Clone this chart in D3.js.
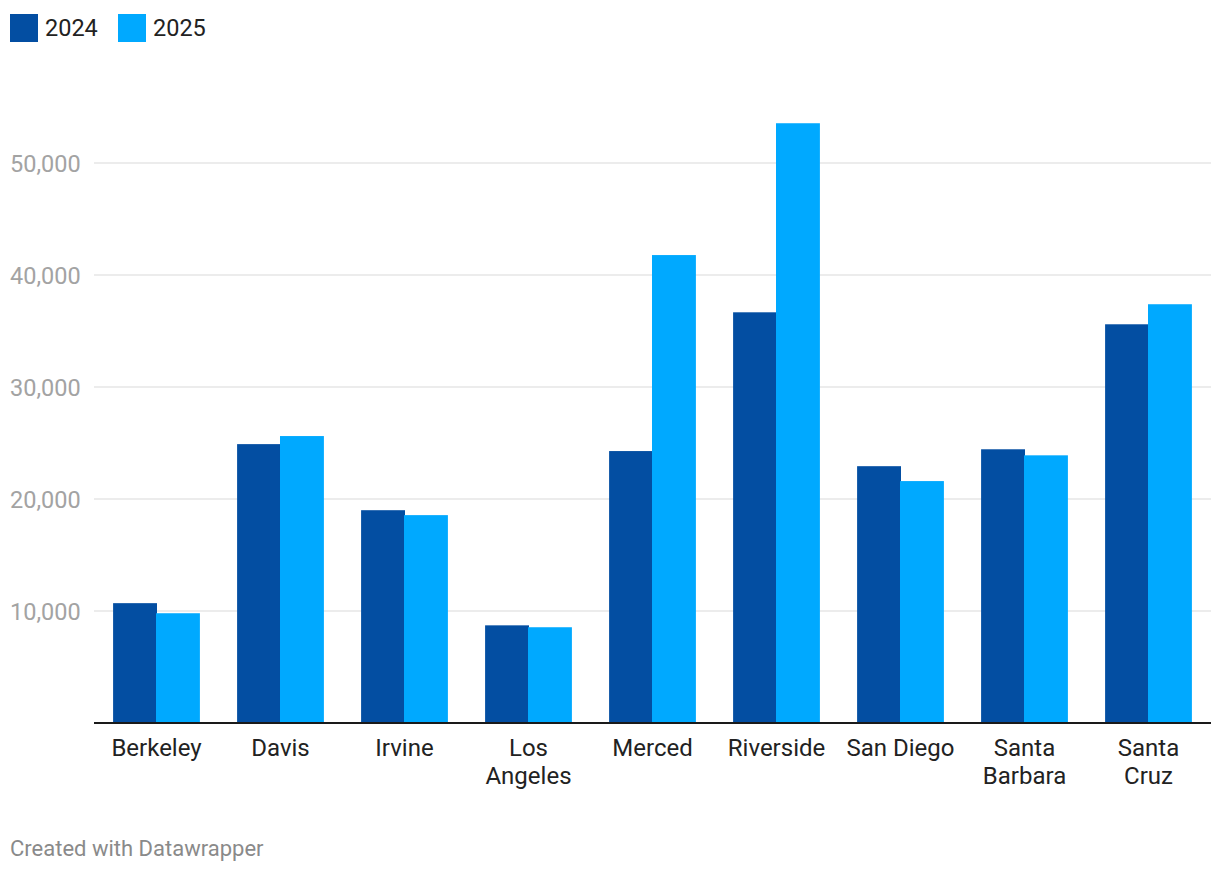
<!DOCTYPE html>
<html>
<head>
<meta charset="utf-8">
<script src="https://cdn.jsdelivr.net/npm/d3@7"></script>
<style>
  body { margin: 0; background: #fff; font-family: Roboto, "Noto Sans", sans-serif; }
</style>
</head>
<body>
<div id="chart"></div>
<script>
var campuses = ["Berkeley", "Davis", "Irvine", "Los Angeles", "Merced", "Riverside", "San Diego", "Santa Barbara", "Santa Cruz"];
var years = ["2024", "2025"];
var values2024 = [10700, 24900, 19000, 8720, 24280, 36670, 22930, 24440, 35600];
var values2025 = [9800, 25620, 18560, 8550, 41780, 53550, 21600, 23900, 37390];
var yTicks = [10000, 20000, 30000, 40000, 50000];
var colors = ["#034ea2", "#00a9ff"];

var width = 1220, height = 872;
var left = 94, right = 1211, bottom = 723;

var svg = d3.select("#chart")
  .append("svg")
    .attr("width", width)
    .attr("height", height);

var rows = campuses.map(function(c, i) {
  return { name: c, vals: [values2024[i], values2025[i]] };
});

var x = d3.scaleBand()
  .domain(campuses)
  .range([left, right])
  .paddingInner(0.3)
  .paddingOuter(0.154);

var xs = d3.scaleBand()
  .domain(years)
  .range([0, x.bandwidth()]);

var y = d3.scaleLinear()
  .domain([0, 50000])
  .range([bottom, bottom - 5 * 112]);

// grid lines + labels
var grid = svg.append("g");
grid.selectAll("line")
  .data(yTicks)
  .enter()
  .append("line")
    .attr("x1", left)
    .attr("x2", right)
    .attr("y1", function(d) { return y(d); })
    .attr("y2", function(d) { return y(d); })
    .attr("stroke", "#e6e6e6")
    .attr("stroke-width", 1.5);

grid.selectAll("text")
  .data(yTicks)
  .enter()
  .append("text")
    .attr("x", 10)
    .attr("y", function(d) { return y(d) + 9; })
    .attr("fill", "#a3a3a3")
    .style("font-size", "23.5px")
    .text(function(d) { return d3.format(",")(d); });

// bars
var groups = svg.selectAll(".grp")
  .data(rows)
  .enter()
  .append("g")
    .attr("transform", function(d) { return "translate(" + x(d.name) + ",0)"; });

groups.selectAll("rect")
  .data(function(d) { return d.vals.map(function(v, j) { return { year: years[j], v: v, j: j }; }); })
  .enter()
  .append("rect")
    .attr("x", function(d) { return xs(d.year) - (d.j ? 0.5 : 0); })
    .attr("width", function(d) { return xs.bandwidth() + (d.j ? 0.5 : 0.5); })
    .attr("y", function(d) { return y(d.v); })
    .attr("height", function(d) { return y(0) - y(d.v); })
    .attr("fill", function(d) { return colors[d.j]; });

// baseline
svg.append("line")
  .attr("x1", left)
  .attr("x2", right)
  .attr("y1", y(0))
  .attr("y2", y(0))
  .attr("stroke", "#1a1a1a")
  .attr("stroke-width", 2);

// x labels, wrapped onto two lines when too wide
groups.append("text")
  .attr("text-anchor", "middle")
  .attr("fill", "#222")
  .style("font-size", "24px")
  .each(function(d) {
    var t = d3.select(this);
    var cx = x.bandwidth() / 2;
    t.append("tspan").attr("x", cx).attr("y", 756).text(d.name);
    if (this.getComputedTextLength() > 112 && d.name.indexOf(" ") > 0) {
      t.selectAll("tspan").remove();
      d.name.split(" ").forEach(function(w, k) {
        t.append("tspan")
          .attr("x", cx)
          .attr("y", 756 + k * 28)
          .text(w);
      });
    }
  });

// legend
var leg = svg.append("g");
var legX = [10, 118];
years.forEach(function(yr, i) {
  leg.append("rect")
    .attr("x", legX[i])
    .attr("y", 14)
    .attr("width", 28)
    .attr("height", 28)
    .attr("fill", colors[i]);
  leg.append("text")
    .attr("x", legX[i] + 35)
    .attr("y", 36)
    .attr("fill", "#222")
    .style("font-size", "23.5px")
    .text(yr);
});

// footer
svg.append("text")
  .attr("x", 10)
  .attr("y", 856)
  .attr("fill", "#8a8a8a")
  .style("font-size", "22px")
  .text("Created with Datawrapper");
</script>
</body>
</html>
